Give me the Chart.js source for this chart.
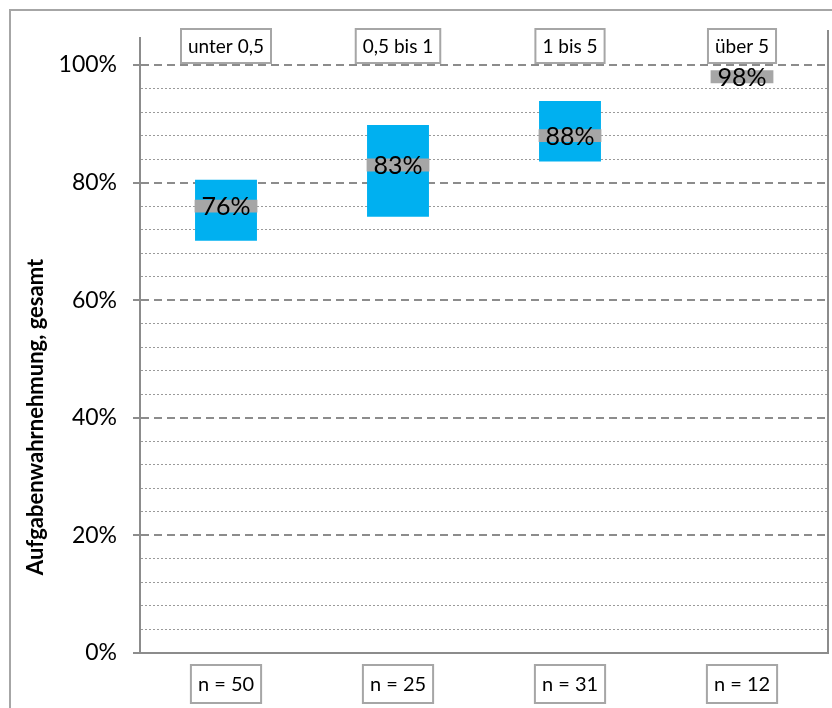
<!DOCTYPE html>
<html>
<head>
<meta charset="utf-8">
<script src="https://cdn.jsdelivr.net/npm/chart.js@4"></script>
<style>
  html, body { margin: 0; padding: 0; background: #fff; }
  #wrap { width: 832px; height: 708px; position: relative; }
</style>
</head>
<body>
<div id="wrap"><canvas id="chart" width="832" height="708"></canvas></div>
<script>
// Gruppen, Stichprobengrößen und Werte (in %)
const categories = ['unter 0,5', '0,5 bis 1', '1 bis 5', 'über 5'];
const sampleSizes = [50, 25, 31, 12];
const lowValues = [70.1, 74.2, 83.6, 97.1];
const highValues = [80.5, 89.8, 93.9, 98.9];
const meanValues = [76, 83, 88, 98];
const yTicks = [0, 20, 40, 60, 80, 100];

const FONT = 'Lato, "DejaVu Sans", sans-serif';
const GRAY = '#a6a6a6';
const MARK = 1.1; // halbe Höhe des Mittelwert-Strichs

// Rahmen, Achsentitel, Beschriftungskästen und Prozentwerte
const decorations = {
    id: 'decorations',
    beforeDraw(chart) {
        const ctx = chart.ctx;
        ctx.save();
        ctx.fillStyle = '#fff';
        ctx.fillRect(0, 0, chart.width, chart.height);
        ctx.strokeStyle = GRAY;
        ctx.lineWidth = 2;
        ctx.strokeRect(10, 10, chart.width + 20, chart.height + 20);
        ctx.restore();
    },
    afterDatasetsDraw(chart) {
        const ctx = chart.ctx;
        const x = chart.scales.x;
        const y = chart.scales.y;
        ctx.save();
        ctx.fillStyle = '#000';
        ctx.font = '25px ' + FONT;
        ctx.textAlign = 'center';
        ctx.textBaseline = 'middle';
        meanValues.forEach((m, i) => {
            ctx.fillText(m + '%', x.getPixelForValue(i), y.getPixelForValue(m) + 1);
        });
        ctx.restore();
    },
    afterDraw(chart) {
        const ctx = chart.ctx;
        const area = chart.chartArea;
        const x = chart.scales.x;
        ctx.save();

        // rechte Kante der Zeichenfläche
        ctx.strokeStyle = '#8c8c8c';
        ctx.lineWidth = 2;
        ctx.beginPath();
        ctx.moveTo(area.right, area.top - 8);
        ctx.lineTo(area.right, area.bottom);
        ctx.stroke();

        const box = (text, cx, cy, h, size) => {
            ctx.font = size + 'px ' + FONT;
            const w = ctx.measureText(text).width + 14;
            ctx.fillStyle = '#fff';
            ctx.fillRect(cx - w / 2, cy - h / 2, w, h);
            ctx.strokeStyle = GRAY;
            ctx.lineWidth = 2;
            ctx.strokeRect(cx - w / 2, cy - h / 2, w, h);
            ctx.fillStyle = '#000';
            ctx.textAlign = 'center';
            ctx.textBaseline = 'middle';
            ctx.fillText(text, cx, cy + 1);
        };
        categories.forEach((c, i) => box(c, x.getPixelForValue(i), 46, 34, 19));
        sampleSizes.forEach((n, i) => box('n = ' + n, x.getPixelForValue(i), 684, 38, 20));

        // Achsentitel
        ctx.translate(36, 417);
        ctx.rotate(-Math.PI / 2);
        ctx.font = 'bold 22px ' + FONT;
        ctx.fillStyle = '#000';
        ctx.textAlign = 'center';
        ctx.textBaseline = 'middle';
        ctx.fillText('Aufgabenwahrnehmung, gesamt', 0, 0);
        ctx.restore();
    }
};

const isMajor = v => yTicks.includes(v);
const isMinor = v => v % 4 === 0;

new Chart(document.getElementById('chart'), {
    type: 'bar',
    data: {
        labels: categories,
        datasets: [
            {
                label: 'Mittelwert',
                data: meanValues.map(m => [m - MARK, m + MARK]),
                backgroundColor: GRAY,
                grouped: false,
                categoryPercentage: 1,
                barPercentage: 0.365,
                order: 0
            },
            {
                label: 'Bereich',
                data: lowValues.map((lo, i) => [lo, highValues[i]]),
                backgroundColor: '#00b0f0',
                grouped: false,
                categoryPercentage: 1,
                barPercentage: 0.36,
                order: 1
            }
        ]
    },
    options: {
        responsive: false,
        animation: false,
        layout: { padding: { top: 38, bottom: 55, left: 0, right: 4 } },
        plugins: {
            legend: { display: false },
            tooltip: { enabled: false }
        },
        scales: {
            x: {
                ticks: { display: false },
                grid: { display: false, drawTicks: false },
                border: { display: true, color: '#8c8c8c', width: 2 },
                afterFit: s => { s.height = 0; }
            },
            y: {
                min: 0,
                max: 104.6,
                afterFit: s => { s.width = 140; },
                ticks: {
                    stepSize: 4,
                    autoSkip: false,
                    padding: 16,
                    color: '#000',
                    font: { family: FONT, size: 23 },
                    callback: v => isMajor(v) ? v + '%' : ''
                },
                grid: {
                    tickLength: 7,
                    tickWidth: 2,
                    tickColor: c => c.tick && isMajor(c.tick.value) ? '#8c8c8c' : 'rgba(0,0,0,0)',
                    tickBorderDash: [],
                    color: c => {
                        const v = c.tick ? c.tick.value : -1;
                        if (v === 0) return 'rgba(0,0,0,0)';
                        if (isMajor(v)) return '#8c8c8c';
                        if (isMinor(v)) return '#9a9a9a';
                        return 'rgba(0,0,0,0)';
                    },
                    lineWidth: c => c.tick && isMajor(c.tick.value) ? 2 : 1
                },
                border: {
                    display: true,
                    color: '#8c8c8c',
                    width: 2,
                    dash: c => {
                        if (!c.tick) return [];
                        if (isMajor(c.tick.value)) return [8, 5];
                        return [2, 2];
                    }
                }
            }
        }
    },
    plugins: [decorations]
});
</script>
</body>
</html>
